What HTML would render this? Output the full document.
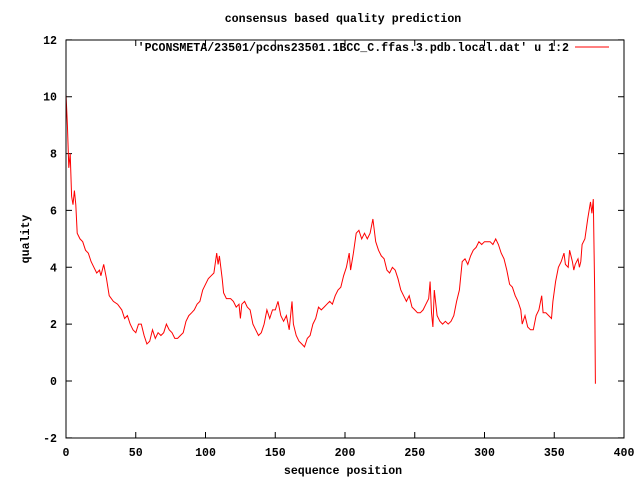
<!DOCTYPE html>
<html><head><meta charset="utf-8"><style>
body{margin:0;background:#fff}
svg text{font-family:"Liberation Mono",monospace;font-size:11.6px;font-weight:bold;fill:#000}
</style></head><body>
<svg id="chart" width="640" height="480" xmlns="http://www.w3.org/2000/svg">
<rect width="640" height="480" fill="#fff"/>
<text x="343" y="22" text-anchor="middle">consensus based quality prediction</text>
<text x="343" y="474" text-anchor="middle">sequence position</text>
<text transform="translate(29,239) rotate(-90)" text-anchor="middle">quality</text>
<g id="axes"></g>
<text x="569" y="51" text-anchor="end">'PCONSMETA/23501/pcons23501.1BCC_C.ffas.3.pdb.local.dat' u 1:2</text>
<line x1="575" y1="47" x2="609" y2="47" stroke="#f00" stroke-width="1"/>
<path id="series" fill="none" stroke="#f00" stroke-width="1"/>
<rect x="66" y="40" width="558" height="398" fill="none" stroke="#000"/>
</svg>
<script>
const xTicks=[0,50,100,150,200,250,300,350,400];
const yTicks=[-2,0,2,4,6,8,10,12];
const posX=[0,1,2,3,4,5,6,7,8,10,12,14,16,18,20,22,24,25,27,29,31,34,37,40,42,44,46,48,50,52,54,56,58,60,62,64,66,68,70,72,74,76,78,80,82,84,86,88,90,92,94,96,98,100,102,104,106,108,109,110,112,113,115,118,120,122,124,125,126,128,130,132,134,136,138,140,142,144,146,148,150,152,154,156,158,160,162,163,165,167,169,171,173,175,177,179,181,183,185,187,189,191,193,195,197,199,201,203,204,206,208,210,212,214,216,218,220,222,224,226,228,230,232,234,236,238,240,242,244,246,248,250,252,254,256,258,260,261,262,263,264,266,268,270,272,274,276,278,280,282,284,286,288,290,292,294,296,298,300,304,306,308,310,312,314,316,318,320,322,324,326,327,329,331,333,335,337,339,341,342,344,346,348,349,351,353,355,357,358,360,361,363,364,365,367,368,369,370,372,374,376,377,378,379,379.5];
const quality=[10.1,9,7.5,8,6.5,6.2,6.7,6.2,5.2,5.0,4.9,4.6,4.5,4.2,4.0,3.8,3.9,3.7,4.1,3.6,3.0,2.8,2.7,2.5,2.2,2.3,2.0,1.8,1.7,2.0,2.0,1.6,1.3,1.4,1.8,1.5,1.7,1.6,1.7,2.0,1.8,1.7,1.5,1.5,1.6,1.7,2.1,2.3,2.4,2.5,2.7,2.8,3.2,3.4,3.6,3.7,3.8,4.5,4.1,4.4,3.6,3.1,2.9,2.9,2.8,2.6,2.7,2.2,2.7,2.8,2.6,2.5,2.0,1.8,1.6,1.7,2.0,2.5,2.2,2.5,2.5,2.8,2.3,2.1,2.3,1.8,2.8,2.0,1.6,1.4,1.3,1.2,1.5,1.6,2.0,2.2,2.6,2.5,2.6,2.7,2.8,2.7,3.0,3.2,3.3,3.7,4.0,4.5,3.9,4.5,5.2,5.3,5.0,5.2,5.0,5.2,5.7,4.9,4.6,4.4,4.3,3.9,3.8,4.0,3.9,3.6,3.2,3.0,2.8,3.0,2.6,2.5,2.4,2.4,2.5,2.7,2.9,3.5,2.4,1.9,3.2,2.3,2.1,2.0,2.1,2.0,2.1,2.3,2.8,3.2,4.2,4.3,4.1,4.4,4.6,4.7,4.9,4.8,4.9,4.9,4.8,5.0,4.8,4.5,4.3,3.9,3.4,3.3,3.0,2.8,2.5,2.0,2.3,1.9,1.8,1.8,2.3,2.5,3.0,2.4,2.4,2.3,2.2,2.8,3.5,4.0,4.2,4.5,4.1,4.0,4.6,4.2,3.9,4.1,4.3,4.0,4.2,4.8,5.0,5.7,6.3,5.9,6.4,3.1,-0.1];
const X=v=>66+(v-0)*558/400;
const Y=v=>381-v*398/14;
const NS='http://www.w3.org/2000/svg';
const ax=document.getElementById('axes');
function mk(t,a){const e=document.createElementNS(NS,t);for(const k in a)e.setAttribute(k,a[k]);ax.appendChild(e);return e;}
xTicks.forEach(t=>{const x=X(t);
const l=mk('path',{d:`M${x},438v-6M${x},40v6`,stroke:'#000'});


const tx=mk('text',{x:x,y:456,'text-anchor':'middle'});tx.textContent=t;

});
yTicks.forEach(t=>{const y=Y(t);
const l=mk('path',{d:`M66,${y}h6M624,${y}h-6`,stroke:'#000'});


const tx=mk('text',{x:57,y:y+4,'text-anchor':'end'});tx.textContent=t;

});
let d='';posX.forEach((p,i)=>{d+=(i?'L':'M')+X(p).toFixed(1)+','+Y(quality[i]).toFixed(1);});
document.getElementById('series').setAttribute('d',d);
</script>
</body></html>
